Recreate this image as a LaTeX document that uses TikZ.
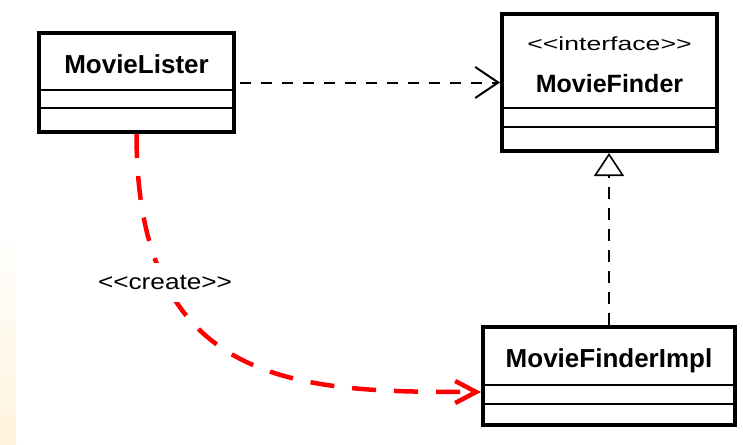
\documentclass[tikz,border=0pt]{standalone}
\usepackage{fontspec}
\setmainfont{Liberation Sans}
\usetikzlibrary{arrows.meta}

\tikzset{
  classbox/.style={draw, line width=4pt, inner sep=0pt},
  classname/.style={anchor=base, font=\fontsize{26}{30}\selectfont\bfseries},
  divider/.style={line width=1.5pt},
  usesline/.style={line width=2pt, dash pattern=on 11pt off 10pt, -{Straight Barb[length=23pt, width=31pt]}},
  realline/.style={line width=1.6pt, dash pattern=on 12pt off 9pt, -{Triangle[open, length=23pt, width=30pt]}},
  createline/.style={red, line width=4.5pt, dash pattern=on 24pt off 18pt, -{Straight Barb[length=21pt, width=22pt]}},
}

\begin{document}
\begin{tikzpicture}[x=1pt, y=-1pt]
  \useasboundingbox (0,0) rectangle (743,444);
  \shade[top color=white, bottom color={rgb,255:red,255;green,243;blue,220}] (0,230) rectangle (16,444);

  \node[classbox, minimum width=195pt, minimum height=99pt]   (lister) at (136.5,82.5) {};
  \node[classname]                                            (lister name) at (136.5,73) {MovieLister};
  \node[classbox, minimum width=215pt, minimum height=137pt]  (finder) at (609.5,82.5) {};
  \node[anchor=base, font=\fontsize{19}{22}\selectfont]       (finder stereo) at (609.5,51) {\scalebox{1.4}[1]{<{}<interface>{}>}};
  \node[classname, font=\fontsize{25}{30}\selectfont\bfseries] (finder name) at (609.5,92) {MovieFinder};
  \node[classbox, minimum width=252pt, minimum height=98pt]   (impl) at (609,376) {};
  \node[classname]                                            (impl name) at (609,367) {MovieFinderImpl};

  \foreach \y in {90,108} \draw[divider] (lister.west |- 0,\y) -- (lister.east |- 0,\y);
  \foreach \y in {108,127} \draw[divider] (finder.west |- 0,\y) -- (finder.east |- 0,\y);
  \foreach \y in {385,404} \draw[divider] (impl.west |- 0,\y) -- (impl.east |- 0,\y);

  \coordinate (impl attr) at ([yshift=-16pt]impl.west);

  \draw[usesline, shorten <=4pt] (lister.east) -- (finder.west);
  \draw[realline] (impl.north) -- (impl.north |- finder.south);
  \draw[createline] (lister.south) .. controls +(0,256) and +(-180,0) .. node[pos=0.25, fill=white, text=black, inner xsep=2pt, inner ysep=12pt, font=\fontsize{22}{26}\selectfont] (create) {\scalebox{1.19}[1]{<{}<create>{}>}} (impl attr);
\end{tikzpicture}
\end{document}
